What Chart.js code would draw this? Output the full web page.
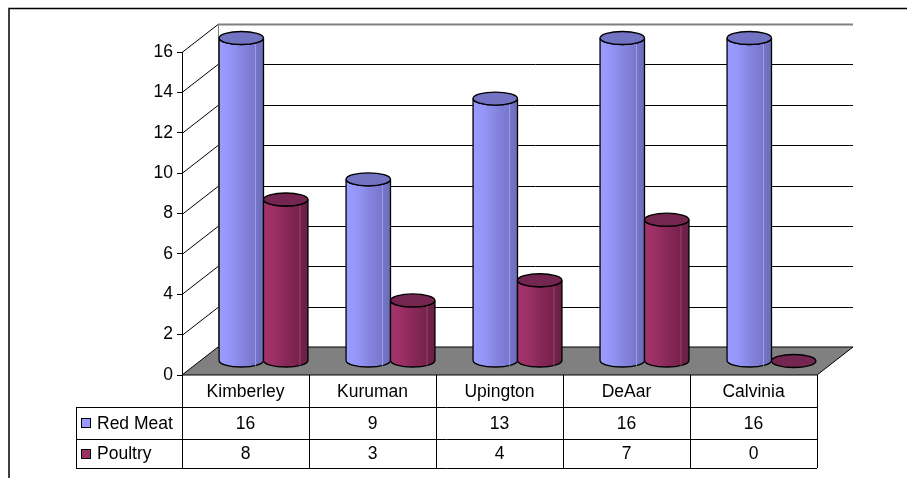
<!DOCTYPE html>
<html>
<head>
<meta charset="utf-8">
<script src="https://cdn.jsdelivr.net/npm/chart.js@4/dist/chart.umd.min.js"></script>
<style>
  html, body { margin: 0; padding: 0; background: #ffffff; }
  #wrap { width: 907px; height: 478px; }
</style>
</head>
<body>
<div id="wrap"><canvas id="c" width="907" height="478"></canvas></div>
<script>
// Meat counts per town
const categories = ['Kimberley', 'Kuruman', 'Upington', 'DeAar', 'Calvinia'];
const redMeat = [16, 9, 13, 16, 16];
const poultry = [8, 3, 4, 7, 0];
const seriesNames = ['Red Meat', 'Poultry'];

const FONT = '"Liberation Sans", Arial, sans-serif';
const FONT_SIZE = 17.5;
const DEPTH_X = 36, DEPTH_Y = 28;      // back wall offset
const MID_X = DEPTH_X / 2, MID_Y = DEPTH_Y / 2;  // cylinders sit half way in
const TABLE_LEFT = 76;
const ROW_BOTTOMS = [407, 439, 468];

const palettes = [
  { stops: ['#9c9cff', '#9595f7', '#8686e2', '#7a7ad0', '#6c6cb8'], top: '#7373c4', light: '#b8b8ff' },
  { stops: ['#a5346c', '#9a3066', '#8a2858', '#7a234e', '#662043'], top: '#752650', light: '#b85a88' }
];

function drawCylinder(ctx, cx, w, top, base, pal) {
  const rx = w / 2, ry = 6.5;
  const l = cx - rx, r = cx + rx;
  ctx.save();
  ctx.lineWidth = 1.3;
  ctx.strokeStyle = '#000';
  if (base - top > 0.5) {
    const g = ctx.createLinearGradient(l, 0, r, 0);
    pal.stops.forEach((c, i) => g.addColorStop(i / (pal.stops.length - 1), c));
    ctx.beginPath();
    ctx.moveTo(l, top);
    ctx.lineTo(l, base);
    ctx.ellipse(cx, base, rx, ry, 0, Math.PI, 0, true);
    ctx.lineTo(r, top);
    ctx.ellipse(cx, top, rx, ry, 0, 0, Math.PI, false);
    ctx.closePath();
    ctx.fillStyle = g;
    ctx.fill();
    ctx.stroke();
    // faint highlight streak
    ctx.beginPath();
    ctx.strokeStyle = pal.light;
    ctx.globalAlpha = 0.6;
    ctx.lineWidth = 1;
    ctx.moveTo(l + w * 0.82, top + ry);
    ctx.lineTo(l + w * 0.82, base + ry - 1);
    ctx.stroke();
    ctx.globalAlpha = 1;
    ctx.strokeStyle = '#000';
    ctx.lineWidth = 1.3;
  }
  ctx.beginPath();
  ctx.ellipse(cx, top, rx, ry, 0, 0, Math.PI * 2);
  ctx.fillStyle = pal.top;
  ctx.fill();
  ctx.stroke();
  ctx.restore();
}

const scenePlugin = {
  id: 'scene',
  beforeDatasetsDraw(chart) {
    const { ctx, chartArea: a, scales: { y } } = chart;
    ctx.save();
    // outer frame (top and left edges)
    ctx.strokeStyle = '#000';
    ctx.lineWidth = 1.5;
    ctx.beginPath();
    ctx.moveTo(9, 478); ctx.lineTo(9, 8.5); ctx.lineTo(907, 8.5);
    ctx.stroke();

    const y0 = y.getPixelForValue(0);
    // floor
    ctx.beginPath();
    ctx.moveTo(a.left, y0);
    ctx.lineTo(a.right, y0);
    ctx.lineTo(a.right + DEPTH_X, y0 - DEPTH_Y);
    ctx.lineTo(a.left + DEPTH_X, y0 - DEPTH_Y);
    ctx.closePath();
    ctx.fillStyle = '#808080';
    ctx.fill();
    ctx.lineWidth = 1;
    ctx.strokeStyle = '#000';
    ctx.stroke();

    // back wall grid and side wall diagonals
    const ticks = y.ticks.map(t => t.value).filter(v => v > 0);
    ticks.forEach(v => {
      const py = Math.round(y.getPixelForValue(v)) + 0.5;
      const isTop = v === y.max;
      ctx.beginPath();
      ctx.moveTo(a.left + DEPTH_X, py - DEPTH_Y);
      ctx.lineTo(a.right + DEPTH_X, py - DEPTH_Y);
      ctx.strokeStyle = isTop ? '#808080' : '#000';
      ctx.lineWidth = isTop ? 2 : 1;
      ctx.stroke();
      ctx.beginPath();
      ctx.moveTo(a.left, py);
      ctx.lineTo(a.left + DEPTH_X, py - DEPTH_Y);
      ctx.strokeStyle = '#000';
      ctx.lineWidth = 1;
      ctx.stroke();
    });
    // back corner
    ctx.beginPath();
    ctx.moveTo(a.left + DEPTH_X + 0.5, y.getPixelForValue(y.max) - DEPTH_Y);
    ctx.lineTo(a.left + DEPTH_X + 0.5, y0 - DEPTH_Y);
    ctx.strokeStyle = '#808080';
    ctx.lineWidth = 1;
    ctx.stroke();
    ctx.restore();
  },
  beforeDatasetDraw() {
    return false; // cylinders are drawn below instead of flat bars
  },
  afterDatasetsDraw(chart) {
    const { ctx } = chart;
    const metas = chart.data.datasets.map((d, i) => chart.getDatasetMeta(i));
    categories.forEach((c, ci) => {
      metas.forEach((meta, di) => {
        const el = meta.data[ci];
        drawCylinder(ctx, el.x + MID_X, el.width, el.y - MID_Y, el.base - MID_Y, palettes[di]);
      });
    });
  },
  afterDraw(chart) {
    const { ctx, chartArea: a, scales: { x, y } } = chart;
    const y0 = y.getPixelForValue(0);
    const colW = (a.right - a.left) / categories.length;
    ctx.save();
    ctx.strokeStyle = '#000';
    ctx.lineWidth = 1;
    const line = (x1, y1, x2, y2) => {
      ctx.beginPath(); ctx.moveTo(x1, y1); ctx.lineTo(x2, y2); ctx.stroke();
    };
    // table grid
    ROW_BOTTOMS.forEach(rb => line(TABLE_LEFT, rb + 0.5, a.right, rb + 0.5));
    line(TABLE_LEFT + 0.5, ROW_BOTTOMS[0], TABLE_LEFT + 0.5, ROW_BOTTOMS[2]);
    for (let i = 0; i <= categories.length; i++) {
      const px = Math.round(a.left + i * colW) + 0.5;
      line(px, y0, px, ROW_BOTTOMS[2]);
    }
    // texts
    ctx.fillStyle = '#000';
    ctx.font = FONT_SIZE + 'px ' + FONT;
    ctx.textAlign = 'center';
    ctx.textBaseline = 'middle';
    const rowMid = [(y0 + ROW_BOTTOMS[0]) / 2, (ROW_BOTTOMS[0] + ROW_BOTTOMS[1]) / 2, (ROW_BOTTOMS[1] + ROW_BOTTOMS[2]) / 2];
    categories.forEach((c, i) => {
      const cx = x.getPixelForValue(i);
      ctx.fillText(c, cx, rowMid[0] + 1);
      ctx.fillText(String(redMeat[i]), cx, rowMid[1] + 1);
      ctx.fillText(String(poultry[i]), cx, rowMid[2] + 1);
    });
    // legend keys in the table
    const keyColors = ['#9999ff', '#993366'];
    seriesNames.forEach((name, i) => {
      const my = rowMid[i + 1];
      ctx.fillStyle = keyColors[i];
      ctx.fillRect(81.5, Math.round(my - 5) + 0.5, 9, 9);
      ctx.strokeRect(81.5, Math.round(my - 5) + 0.5, 9, 9);
      ctx.fillStyle = '#000';
      ctx.textAlign = 'left';
      ctx.fillText(name, 97, my + 1);
    });
    ctx.restore();
  }
};

new Chart(document.getElementById('c'), {
  type: 'bar',
  data: {
    labels: categories,
    datasets: [
      { label: seriesNames[0], data: redMeat, backgroundColor: '#9999ff' },
      { label: seriesNames[1], data: poultry, backgroundColor: '#993366' }
    ]
  },
  options: {
    responsive: false,
    animation: false,
    devicePixelRatio: 1,
    datasets: { bar: { categoryPercentage: 0.7, barPercentage: 1.0 } },
    layout: { padding: { left: 0, top: 52, right: 90, bottom: 103 } },
    plugins: { legend: { display: false }, tooltip: { enabled: false } },
    scales: {
      x: { display: false },
      y: {
        min: 0, max: 16,
        ticks: { stepSize: 2, color: '#000', padding: 4, font: { family: FONT, size: FONT_SIZE } },
        grid: { drawOnChartArea: false, tickLength: 5, color: '#000' },
        border: { color: '#000', width: 1 },
        afterFit(s) { s.width = 182; }
      }
    }
  },
  plugins: [scenePlugin]
});
</script>
</body>
</html>
